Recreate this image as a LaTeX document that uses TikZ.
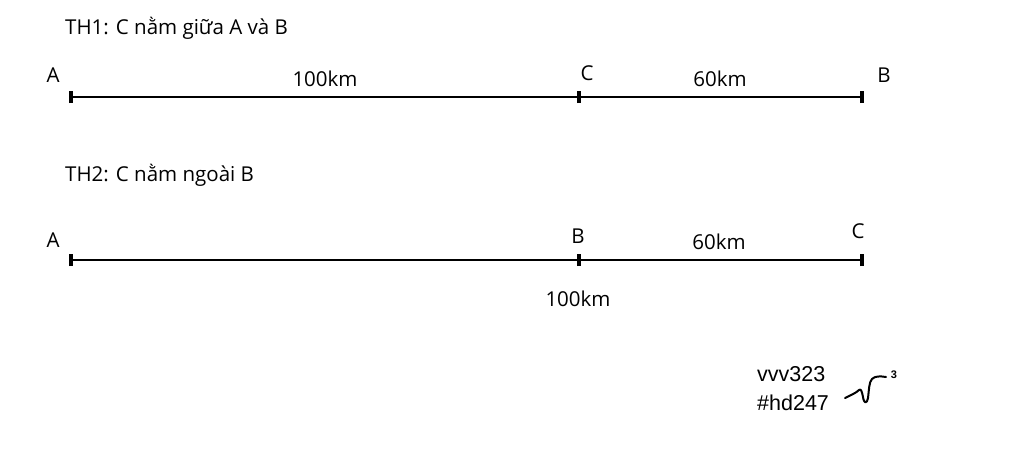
\documentclass[tikz,border=0pt]{standalone}
\usepackage{fontspec}
\setmainfont{Open Sans}
\newfontfamily\sigfont{Liberation Sans}
\begin{document}
\begin{tikzpicture}[x=1pt,y=-1pt,
  seg/.style={line width=2pt,black},
  tickmark/.style={line width=4pt,black},
  lbl/.style={font=\fontsize{20.5}{23}\selectfont,inner sep=0pt,anchor=center},
  sig/.style={font=\sigfont\fontsize{21.5}{24}\selectfont,inner sep=0pt,anchor=west}]
\useasboundingbox (0,0) rectangle (1024,469);
% TH1
\node[lbl,anchor=west] (t1) at (65,28) {TH1: C nằm giữa A và B};
\coordinate (A1) at (71,97);
\coordinate (C1) at (579,97);
\coordinate (B1) at (862,97);
\draw[seg] (A1) -- (B1);
\foreach \p in {A1,C1,B1} \draw[tickmark] ([yshift=-6pt]\p) -- ([yshift=6pt]\p);
\node[lbl] (la1) at (53,75) {A};
\node[lbl] (lc1) at (587,73) {C};
\node[lbl] (lb1) at (884,75) {B};
\node[lbl] (d1) at (325,79) {100km};
\node[lbl] (d2) at (720,79) {60km};
% TH2
\node[lbl,anchor=west] (t2) at (65,175) {TH2: C nằm ngoài B};
\coordinate (A2) at (71,260);
\coordinate (B2) at (579,260);
\coordinate (C2) at (862,260);
\draw[seg] (A2) -- (C2);
\foreach \p in {A2,B2,C2} \draw[tickmark] ([yshift=-6pt]\p) -- ([yshift=6pt]\p);
\node[lbl] (la2) at (53,240) {A};
\node[lbl] (lb2) at (578,236) {B};
\node[lbl] (lc2) at (858,231) {C};
\node[lbl] (d3) at (719,242) {60km};
\node[lbl] (d4) at (578,299) {100km};
% signature
\node[sig] (s1) at (757,374) {vvv323};
\node[sig] (s2) at (757,403) {\#hd247};
\draw[line width=2pt,line cap=round,line join=round]
  (845,398) .. controls (851,395) and (856,393) .. (859,390)
  .. controls (861,388) and (862,392) .. (863,397)
  .. controls (864,404) and (867,404) .. (868,398)
  .. controls (869,390) and (869,382) .. (872,379)
  .. controls (875,376) and (880,376) .. (886,377);
\node[font=\sigfont\bfseries\fontsize{11}{12}\selectfont,inner sep=0pt] (s3) at (894,375) {3};
\end{tikzpicture}
\end{document}
